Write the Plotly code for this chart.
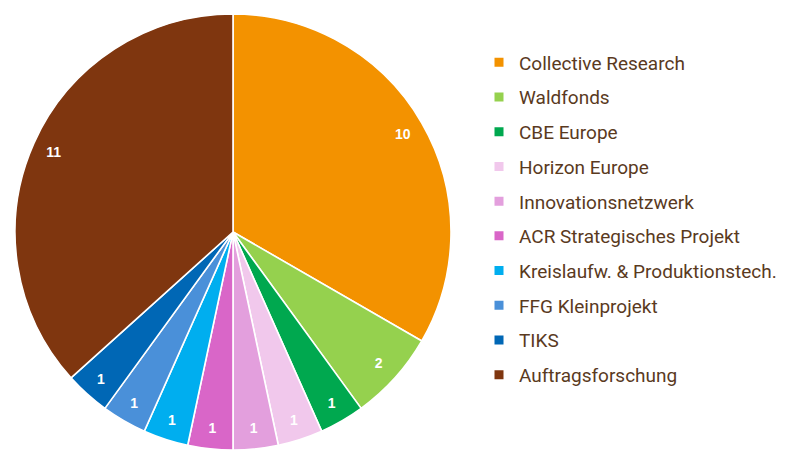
import plotly.graph_objects as go

labels = ["Collective Research", "Waldfonds", "CBE Europe", "Horizon Europe",
          "Innovationsnetzwerk", "ACR Strategisches Projekt",
          "Kreislaufw. & Produktionstech.", "FFG Kleinprojekt", "TIKS",
          "Auftragsforschung"]
values = [10, 2, 1, 1, 1, 1, 1, 1, 1, 11]
colors = ["#F39200", "#95D14E", "#00A84F", "#F1C8EC", "#E39FDD", "#D966C8",
          "#00AEEF", "#4A90D9", "#0067B5", "#7F360F"]

W, H = 787, 450
cx, cy, r = 233, 232, 218
domain = dict(x=[(cx - r) / W, (cx + r) / W], y=[(H - cy - r) / H, (H - cy + r) / H])

fig = go.Figure()
# filled pie
fig.add_trace(go.Pie(
    labels=labels, values=values, sort=False, direction="clockwise", rotation=0,
    marker=dict(colors=colors, line=dict(color="white", width=1.6)),
    textinfo="none", domain=domain, showlegend=False, hoverinfo="label+value",
))
# transparent ring carrying the value labels near the rim
fig.add_trace(go.Pie(
    labels=labels, values=values, sort=False, direction="clockwise", rotation=0,
    hole=0.8,
    marker=dict(colors=["rgba(0,0,0,0)"] * len(values), line=dict(width=0)),
    textinfo="value", textposition="inside", insidetextorientation="horizontal",
    textfont=dict(color="white", size=14, family="Liberation Sans", weight="bold"),
    domain=domain, showlegend=False, hoverinfo="skip",
))
# legend entries
for i, (lab, col) in enumerate(zip(labels, colors)):
    fig.add_trace(go.Scatter(
        x=[None], y=[None], mode="markers", name=lab,
        marker=dict(symbol="square", size=9, color=col),
        legendgroup=str(i), showlegend=True,
    ))

fig.update_layout(
    width=W, height=H,
    margin=dict(l=0, r=0, t=0, b=0),
    paper_bgcolor="white", plot_bgcolor="white",
    xaxis=dict(visible=False), yaxis=dict(visible=False),
    showlegend=True,
    legend=dict(x=479 / W, xanchor="left", y=1 - 43.5 / H, yanchor="top",
                font=dict(family="Roboto, sans-serif", size=19, color="#5A3A1E"),
                bgcolor="rgba(0,0,0,0)", traceorder="grouped", tracegroupgap=7),
)

fig.write_html("out.html", config={"displayModeBar": False},
               post_script="document.body.style.margin='0';")
